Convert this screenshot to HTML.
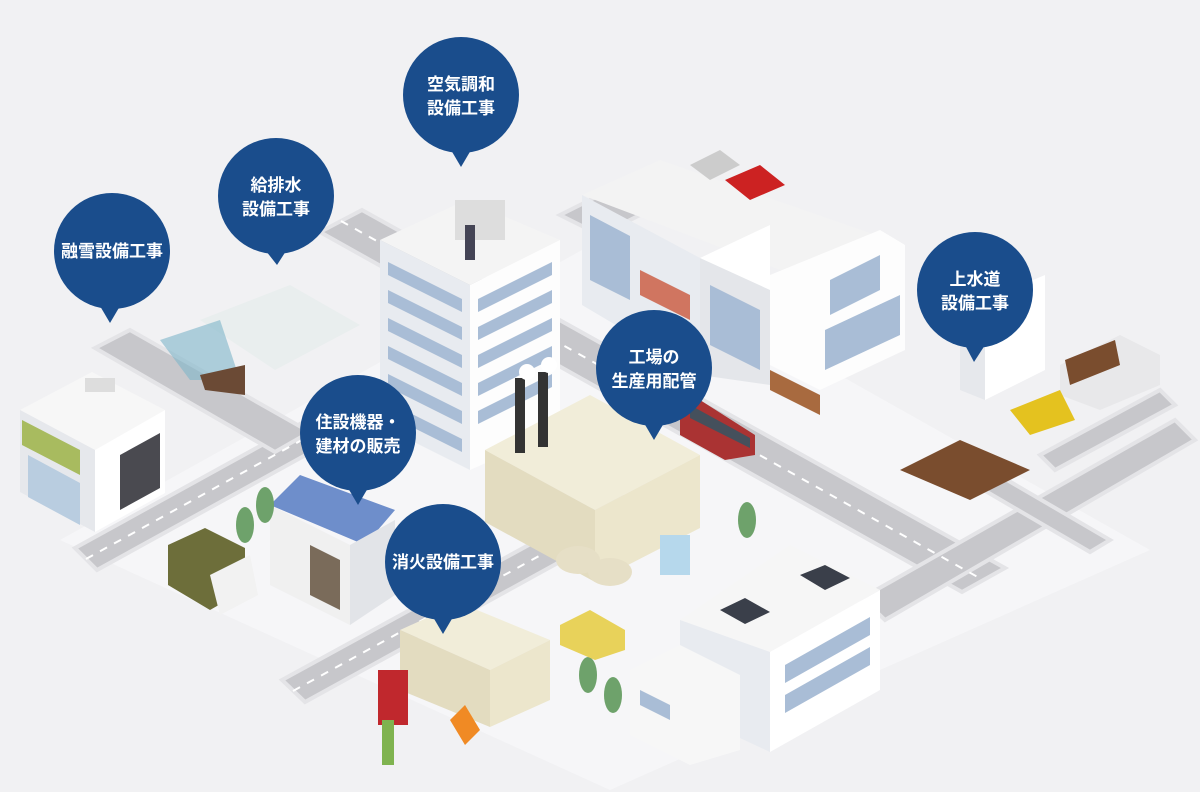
<!DOCTYPE html>
<html><head><meta charset="utf-8"><style>
html,body{margin:0;padding:0;background:#f1f1f3;}
svg{display:block}
.bt{font-family:"Liberation Sans","Noto Sans CJK JP",sans-serif;font-size:17px;font-weight:bold;fill:#fff;text-anchor:middle}
</style></head><body>
<svg width="1200" height="792" viewBox="0 0 1200 792" xmlns="http://www.w3.org/2000/svg">
<rect width="1200" height="792" fill="#f1f1f3"/>
<!-- ground plates -->
<polygon points="60,540 600,240 1150,550 610,790" fill="#f6f6f8"/>
<!-- roads -->
<g fill="#c7c7cb" stroke="#e4e4e7" stroke-width="4">
<polygon points="320,232 362,210 1005,568 962,592"/>
<polygon points="75,548 300,424 322,446 97,570"/>
<polygon points="95,348 130,330 310,432 275,452"/>
<polygon points="282,680 620,495 645,515 305,702"/>
<polygon points="862,598 1175,420 1195,440 885,620"/>
<polygon points="560,215 600,195 640,215 600,235"/>
<polygon points="990,470 1110,540 1090,552 970,482"/>
<polygon points="1040,455 1160,390 1175,405 1055,470"/>
</g>
<g stroke="#fff" stroke-width="2" stroke-dasharray="8 8">
<line x1="341" y1="221" x2="983" y2="580"/>
<line x1="86" y1="559" x2="311" y2="435"/>
<line x1="293" y1="691" x2="632" y2="505"/>
</g>
<!-- snow melting site -->
<polygon points="200,320 290,285 360,325 275,370" fill="#e9eeee"/>
<polygon points="160,340 220,320 240,380 190,380" fill="#7fb6c9" opacity="0.6"/>
<polygon points="200,375 245,365 245,395 205,390" fill="#6b4a35"/>
<!-- left building -->
<polygon points="20,410 92,372 165,410 95,450" fill="#f7f7f7"/>
<polygon points="20,410 95,450 95,532 20,492" fill="#e6e8ec"/>
<polygon points="95,450 165,410 165,493 95,532" fill="#ffffff"/>
<polygon points="22,420 80,450 80,475 22,445" fill="#a8bb5f"/>
<polygon points="28,455 80,483 80,525 28,497" fill="#b9cde0"/>
<polygon points="120,455 160,433 160,488 120,510" fill="#4a4a50"/>
<rect x="85" y="378" width="30" height="14" fill="#ddd"/>
<!-- tall tower -->
<polygon points="380,240 466,200 560,240 470,285" fill="#f4f4f4"/>
<polygon points="380,240 470,285 470,470 380,425" fill="#e8ebf0"/>
<polygon points="470,285 560,240 560,430 470,470" fill="#fdfdfd"/>
<g fill="#a9bdd6">
<polygon points="388,262 462,299 462,312 388,275"/><polygon points="388,290 462,327 462,340 388,303"/>
<polygon points="388,318 462,355 462,368 388,331"/><polygon points="388,346 462,383 462,396 388,359"/>
<polygon points="388,374 462,411 462,424 388,387"/><polygon points="388,402 462,439 462,452 388,415"/>
<polygon points="478,299 552,262 552,275 478,312"/><polygon points="478,327 552,290 552,303 478,340"/>
<polygon points="478,355 552,318 552,331 478,368"/><polygon points="478,383 552,346 552,359 478,396"/>
<polygon points="478,411 552,374 552,387 478,424"/>
</g>
<rect x="455" y="200" width="50" height="40" fill="#ddd"/>
<rect x="465" y="225" width="10" height="35" fill="#445"/>
<!-- office complex -->
<polygon points="582,195 660,160 890,240 812,282" fill="#f3f3f3"/>
<polygon points="582,195 700,258 700,375 582,305" fill="#e8ebf0"/>
<polygon points="700,258 770,225 770,340 700,375" fill="#fff"/>
<polygon points="770,275 880,230 905,245 905,350 820,390 770,365" fill="#fdfdfd"/>
<polygon points="700,258 770,290 770,385 700,375" fill="#e4e6ea"/>
<g fill="#a9bdd6">
<polygon points="590,215 630,236 630,300 590,280"/>
<polygon points="710,285 760,310 760,370 710,345"/>
<polygon points="830,280 880,255 880,290 830,315"/>
<polygon points="825,330 900,295 900,335 825,370"/>
</g>
<polygon points="640,270 690,295 690,320 640,295" fill="#d07560"/>
<polygon points="770,370 820,395 820,415 770,390" fill="#a86a3f"/>
<polygon points="725,180 760,165 785,185 750,200" fill="#c22"/>
<polygon points="690,165 720,150 740,165 710,180" fill="#ccc"/>
<!-- right building -->
<polygon points="985,300 1045,275 1045,370 985,400" fill="#fff"/>
<polygon points="960,300 985,310 985,400 960,390" fill="#e6e8ec"/>
<!-- truck & excavation right -->
<polygon points="1060,365 1120,335 1160,355 1160,385 1100,410 1060,395" fill="#e8e8ea"/>
<polygon points="1065,360 1115,340 1120,365 1070,385" fill="#7a4d2e"/>
<polygon points="900,470 960,440 1030,470 970,500" fill="#7a4d2e"/>
<polygon points="1010,410 1060,390 1075,420 1030,435" fill="#e4c21f"/>
<!-- train -->
<polygon points="680,410 700,400 755,435 755,455 725,460 680,435" fill="#a33"/>
<polygon points="690,405 750,438 750,448 690,418" fill="#45505c"/>
<!-- factory -->
<polygon points="485,450 590,395 700,455 595,510" fill="#f1edd9"/>
<polygon points="485,450 595,510 595,582 485,522" fill="#e3dcc0"/>
<polygon points="595,510 700,455 700,528 595,582" fill="#ece6cc"/>
<rect x="515" y="378" width="10" height="75" fill="#333"/>
<rect x="538" y="372" width="10" height="75" fill="#333"/>
<circle cx="527" cy="372" r="8" fill="#fff"/><circle cx="549" cy="365" r="8" fill="#fff"/>
<ellipse cx="578" cy="560" rx="22" ry="14" fill="#e6dfc6"/>
<ellipse cx="610" cy="572" rx="22" ry="14" fill="#e6dfc6"/>
<rect x="660" y="535" width="30" height="40" fill="#b6d8ec"/>
<!-- house -->
<polygon points="270,505 300,475 395,510 365,545" fill="#6e8ecb"/>
<polygon points="270,505 270,585 350,625 350,545" fill="#f0f0f0"/>
<polygon points="350,545 395,520 395,595 350,625" fill="#e2e4e8"/>
<polygon points="310,545 340,560 340,610 310,595" fill="#7a6b5a"/>
<!-- truck left -->
<polygon points="168,545 205,528 245,548 245,590 210,610 168,585" fill="#6d6e3a"/>
<polygon points="210,575 250,555 258,595 220,615" fill="#f2f2f2"/>
<!-- trees -->
<g fill="#6ea26b"><ellipse cx="245" cy="525" rx="9" ry="18"/><ellipse cx="265" cy="505" rx="9" ry="18"/><ellipse cx="747" cy="520" rx="9" ry="18"/><ellipse cx="588" cy="675" rx="9" ry="18"/><ellipse cx="613" cy="695" rx="9" ry="18"/></g>
<!-- car -->
<polygon points="560,625 590,610 625,630 625,650 595,660 560,645" fill="#e8d25a"/>
<!-- fire building -->
<polygon points="400,630 460,603 550,640 490,670" fill="#f1edd9"/>
<polygon points="400,630 490,670 490,727 400,690" fill="#e3dcc0"/>
<polygon points="490,670 550,640 550,700 490,727" fill="#ece6cc"/>
<rect x="378" y="670" width="30" height="55" fill="#c0282d"/>
<polygon points="450,720 465,705 480,730 465,745" fill="#f08a24"/>
<rect x="382" y="720" width="12" height="45" fill="#7fb34f"/>
<!-- bottom right building -->
<polygon points="680,620 790,545 880,590 770,652" fill="#f6f6f6"/>
<polygon points="680,620 770,652 770,752 680,710" fill="#e8ebf0"/>
<polygon points="770,652 880,590 880,690 770,752" fill="#fff"/>
<polygon points="630,670 680,645 740,675 740,750 690,765 630,735" fill="#f7f7f7"/>
<g fill="#3a3f4a">
<polygon points="800,575 825,565 850,578 825,590"/><polygon points="720,610 745,598 770,612 745,624"/>
</g>
<g fill="#a9bdd6">
<polygon points="785,665 870,617 870,635 785,683"/><polygon points="785,695 870,647 870,665 785,713"/>
<polygon points="640,690 670,705 670,720 640,705"/>
</g>
<!-- bubbles -->
<g fill="#1a4d8c">
<circle cx="461" cy="95" r="58"/><polygon points="451,150 471,150 461,167"/>
<circle cx="276" cy="196" r="58"/><polygon points="266,251 286,251 277,265"/>
<circle cx="112" cy="251" r="58"/><polygon points="100,306 120,306 110,323"/>
<circle cx="975" cy="290" r="58"/><polygon points="965,345 985,345 974,362"/>
<circle cx="654" cy="368" r="58"/><polygon points="644,423 664,423 654,440"/>
<circle cx="358" cy="433" r="58"/><polygon points="348,488 368,488 358,505"/>
<circle cx="443" cy="562" r="58"/><polygon points="433,617 453,617 443,634"/>
</g>
<text class="bt" x="461" y="90">空気調和</text><text class="bt" x="461" y="114">設備工事</text>
<text class="bt" x="276" y="191">給排水</text><text class="bt" x="276" y="215">設備工事</text>
<text class="bt" x="112" y="257">融雪設備工事</text>
<text class="bt" x="975" y="285">上水道</text><text class="bt" x="975" y="309">設備工事</text>
<text class="bt" x="654" y="363">工場の</text><text class="bt" x="654" y="387">生産用配管</text>
<text class="bt" x="358" y="428">住設機器・</text><text class="bt" x="358" y="452">建材の販売</text>
<text class="bt" x="443" y="568">消火設備工事</text>
</svg>
</body></html>
